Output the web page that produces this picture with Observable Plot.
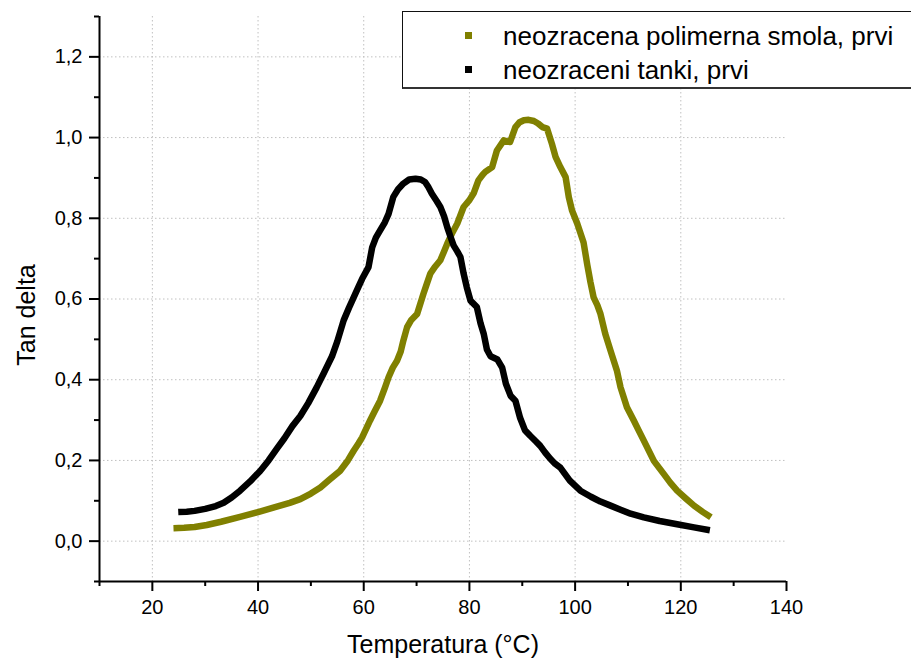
<!DOCTYPE html>
<html>
<head>
<meta charset="utf-8">
<script src="https://cdn.jsdelivr.net/npm/d3@7"></script>
<script src="https://cdn.jsdelivr.net/npm/@observablehq/plot@0.6"></script>
<style>
  html, body { margin: 0; padding: 0; background: #fff; overflow: hidden; }
  body { width: 911px; height: 660px; position: relative; font-family: "Liberation Sans", Arial, sans-serif; }
  #chart { position: absolute; left: 0; top: 0; }
  #legend {
    position: absolute; left: 402px; top: 11px; width: 540px; height: 75px;
    border: 1.5px solid #111; border-bottom: 2px solid #333; background: #fff;
    font-size: 26px; color: #000;
  }
  .row { position: absolute; left: 0; height: 30px; white-space: nowrap; }
  .sw { position: absolute; left: 62px; width: 7px; height: 7px; }
  .lbl { position: absolute; left: 100px; line-height: 30px; top: -15px; }
</style>
</head>
<body>
<div id="chart"></div>
<div id="legend"></div>
<script>
// ---- data ----
const seriesNames = ["neozracena polimerna smola, prvi", "neozraceni tanki, prvi"];
const seriesColors = ["#808000", "#000000"];

const tempOlive = [24.0,26.0,28.0,30.3,33.0,36.6,40.0,42.9,46.0,48.0,50.0,51.8,53.5,55.5,57.0,58.1,59.0,59.7,61.2,62.0,63.1,64.0,64.7,65.5,66.3,67.0,67.5,68.2,69.0,70.1,71.3,72.0,72.6,73.5,74.5,75.2,75.8,76.8,77.7,78.9,80.0,80.8,81.7,82.5,83.0,84.3,85.2,86.5,87.7,88.7,89.5,90.3,91.2,92.2,93.0,93.8,94.7,95.6,96.3,97.2,98.2,98.8,99.4,100.4,101.6,102.3,102.9,103.5,104.2,104.8,105.7,106.7,107.9,108.6,109.8,111.1,112.0,113.0,114.9,116.8,118.0,119.3,121.0,122.5,124.2,125.7];
const tanOlive = [0.032,0.033,0.035,0.040,0.048,0.060,0.072,0.083,0.095,0.104,0.118,0.133,0.152,0.174,0.200,0.224,0.242,0.257,0.299,0.320,0.348,0.380,0.406,0.430,0.447,0.470,0.497,0.530,0.548,0.563,0.613,0.640,0.663,0.680,0.696,0.718,0.737,0.765,0.787,0.828,0.845,0.862,0.894,0.908,0.915,0.927,0.968,0.993,0.989,1.026,1.038,1.043,1.044,1.041,1.035,1.026,1.022,0.985,0.952,0.927,0.902,0.853,0.820,0.787,0.740,0.685,0.642,0.604,0.585,0.563,0.514,0.472,0.423,0.381,0.332,0.299,0.275,0.249,0.199,0.166,0.145,0.125,0.105,0.088,0.072,0.059];

const tempBlack = [24.9,26.5,28.0,30.0,32.0,33.5,35.0,36.6,38.5,40.4,42.0,43.5,45.0,46.5,48.0,49.5,51.1,52.5,54.0,55.0,56.2,57.2,58.1,59.0,59.7,60.9,61.6,62.3,63.1,64.0,64.7,65.6,66.5,67.5,68.6,69.8,70.8,71.6,72.2,72.9,73.8,74.5,75.2,75.8,76.4,77.0,77.7,78.3,78.9,79.5,80.2,81.4,82.1,82.7,83.3,84.0,85.3,86.2,86.9,87.8,88.7,89.6,90.5,91.5,92.5,93.4,94.3,95.3,96.2,97.2,99.0,101.0,103.0,104.8,106.7,108.6,110.5,113.0,116.0,119.3,122.5,125.5];
const tanBlack = [0.072,0.073,0.075,0.080,0.087,0.095,0.108,0.125,0.148,0.174,0.200,0.228,0.255,0.285,0.310,0.342,0.381,0.418,0.458,0.495,0.547,0.578,0.604,0.630,0.650,0.679,0.728,0.752,0.770,0.790,0.811,0.853,0.872,0.886,0.896,0.898,0.896,0.890,0.878,0.861,0.843,0.828,0.805,0.778,0.755,0.733,0.718,0.704,0.663,0.629,0.596,0.580,0.540,0.514,0.475,0.458,0.450,0.430,0.390,0.360,0.348,0.305,0.275,0.261,0.248,0.236,0.220,0.204,0.192,0.182,0.150,0.125,0.110,0.098,0.088,0.078,0.068,0.059,0.050,0.042,0.034,0.027];

const xMajor = [20, 40, 60, 80, 100, 120, 140];
const xMinor = [10, 30, 50, 70, 90, 110, 130];
const xGrid = [20, 40, 60, 80, 100, 120];
const yMajor = [0.0, 0.2, 0.4, 0.6, 0.8, 1.0, 1.2];
const yMinor = [-0.1, 0.1, 0.3, 0.5, 0.7, 0.9, 1.1, 1.3];
const xDomain = [10, 140];
const yDomain = [-0.1, 1.3];
const xTitle = "Temperatura (°C)";
const yTitle = "Tan delta";

// ---- build tables ----
const olive = tempOlive.map((t, i) => ({t, v: tanOlive[i]}));
const black = tempBlack.map((t, i) => ({t, v: tanBlack[i]}));

const fmt = d => d.toFixed(1).replace(".", ",");
const font = "Liberation Sans, Arial, sans-serif";
const gridStyle = {stroke: "#c0c0c0", strokeOpacity: 1, strokeWidth: 1, strokeDasharray: "1.5,2.5"};

const chart = Plot.plot({
  width: 911,
  height: 660,
  marginLeft: 99,
  marginRight: 125,
  marginTop: 16,
  marginBottom: 79,
  style: {fontFamily: font, background: "#fff", color: "#000", overflow: "visible"},
  x: {domain: xDomain, axis: null},
  y: {domain: yDomain, axis: null},
  marks: [
    Plot.gridX(xGrid, gridStyle),
    Plot.gridY(yMajor, gridStyle),
    Plot.line(olive, {x: "t", y: "v", stroke: seriesColors[0], strokeWidth: 6.5, strokeLinecap: "butt", strokeLinejoin: "round"}),
    Plot.line(black, {x: "t", y: "v", stroke: seriesColors[1], strokeWidth: 6.5, strokeLinecap: "butt", strokeLinejoin: "round"}),
    Plot.ruleX([xDomain[0]], {stroke: "#000", strokeWidth: 2}),
    Plot.ruleY([yDomain[0]], {stroke: "#000", strokeWidth: 2}),
    Plot.axisX(xMajor, {anchor: "bottom", tickSize: 10, tickPadding: 8, strokeWidth: 2, fontSize: 20, tickFormat: d => String(d), label: null}),
    Plot.axisX(xMinor, {anchor: "bottom", tickSize: 5, strokeWidth: 2, tickFormat: () => "", label: null}),
    Plot.axisY(yMajor, {anchor: "left", tickSize: 10, tickPadding: 7, strokeWidth: 2, fontSize: 20, tickFormat: fmt, label: null}),
    Plot.axisY(yMinor, {anchor: "left", tickSize: 5, strokeWidth: 2, tickFormat: () => "", label: null}),
    Plot.text([xTitle], {frameAnchor: "bottom", textAnchor: "middle", dy: 71, fontSize: 25, fill: "#000", lineAnchor: "bottom"}),
    Plot.text([yTitle], {frameAnchor: "left", textAnchor: "middle", rotate: -90, dx: -73, dy: 16, fontSize: 25, fill: "#000"})
  ]
});
document.getElementById("chart").appendChild(chart);

// ---- legend ----
const legend = document.getElementById("legend");
seriesNames.forEach((name, i) => {
  const row = document.createElement("div");
  row.className = "row";
  row.style.top = (i === 0 ? 24 : 58) + "px";
  const sw = document.createElement("div");
  sw.className = "sw";
  sw.style.background = seriesColors[i];
  sw.style.top = "-4px";
  const lbl = document.createElement("div");
  lbl.className = "lbl";
  lbl.textContent = name;
  row.appendChild(sw);
  row.appendChild(lbl);
  legend.appendChild(row);
});
</script>
</body>
</html>
